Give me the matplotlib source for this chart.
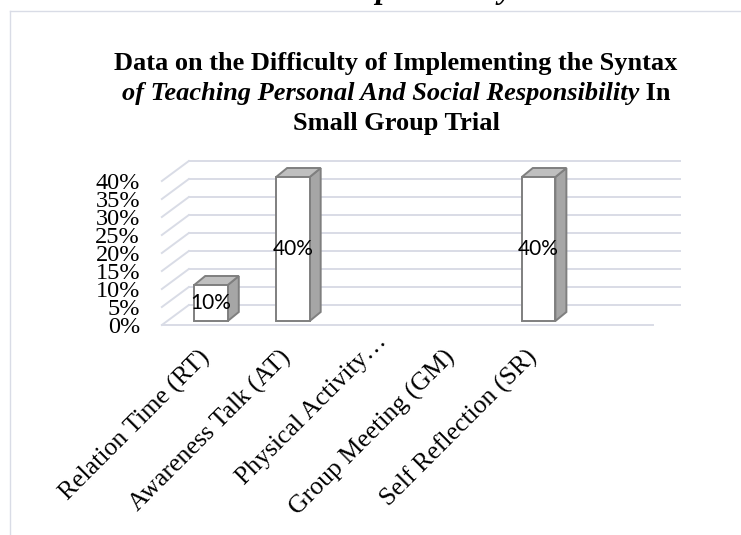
import numpy as np
import matplotlib
matplotlib.use("Agg")
import matplotlib.pyplot as plt
from matplotlib import transforms as mtransforms
from matplotlib.patches import Polygon
from matplotlib.lines import Line2D

# ---------------- data ----------------
categories = ["Relation Time (RT)", "Awareness Talk (AT)", "Physical Activity\u2026",
              "Group Meeting (GM)", "Self Reflection (SR)"]
values = [10, 40, 0, 0, 40]
yticks = [0, 5, 10, 15, 20, 25, 30, 35, 40]
ytick_labels = [f"{t}%" for t in yticks]
title_line1 = "Data on the Difficulty of Implementing the Syntax"
title_line2_italic = "of Teaching Personal And Social Responsibility"
title_line2_rest = " In"
title_line3 = "Small Group Trial"
cut_heading = "Responsibility"

# ---------------- figure ----------------
W, H, DPI = 741, 535, 100
fig = plt.figure(figsize=(W / DPI, H / DPI), dpi=DPI)
fig.patch.set_facecolor("white")

SERIF = "Liberation Serif"
GRID = "#d9dce6"
EDGE = "#7f7f7f"

# axes: category i -> px 211 + 81.9 i ; value v -> px 321 - 3.6 v (image px, top origin)
axL, axR, axT, axB = 150, 700, 140, 340
ax = fig.add_axes([axL / W, 1 - axB / H, (axR - axL) / W, (axB - axT) / H])
step, x0, y0, ys = 81.9, 211, 321, 3.6
ax.set_xlim((axL - x0) / step, (axR - x0) / step)
ax.set_ylim((y0 - axB) / ys, (y0 - axT) / ys)
ax.patch.set_visible(False)
for s in ax.spines.values():
    s.set_visible(False)

fig.canvas.draw()
disp = ax.transData.transform
ident = mtransforms.IdentityTransform()

# ---------------- walls / gridlines ----------------
wall_left, wall_right = -0.6, 5.4
front_dy = -4
back_dx, back_dy = 27, 16
for t in yticks:
    fx, fy = disp((wall_left, t))
    fy += front_dy
    bx, by = fx + back_dx, fy + back_dy + 4
    rx = disp((wall_right, t))[0] + back_dx
    ax.add_line(Line2D([fx, bx], [fy, by], transform=ident, color=GRID, lw=1.4, zorder=1))
    ax.add_line(Line2D([bx, rx], [by, by], transform=ident, color=GRID, lw=1.4, zorder=1))
# floor front edge
fx, fy = disp((wall_left, 0))
rx = disp((wall_right, 0))[0]
ax.add_line(Line2D([fx, rx], [fy + front_dy, fy + front_dy], transform=ident,
                   color=GRID, lw=1.4, zorder=1))

# ---------------- bars ----------------
bar_w = 0.41
ddx, ddy = 11, 9
for i, v in enumerate(values):
    if v <= 0:
        continue
    ax.bar(i, v, width=bar_w, color="white", edgecolor=EDGE, lw=1.4, zorder=3)
    lx, by_ = disp((i - bar_w / 2, 0))
    rx, ty = disp((i + bar_w / 2, v))
    side = Polygon([(rx, by_), (rx + ddx, by_ + ddy), (rx + ddx, ty + ddy), (rx, ty)],
                   closed=True, transform=ident, facecolor="#a6a6a6", edgecolor=EDGE,
                   lw=1.4, zorder=2.9)
    top = Polygon([(lx, ty), (lx + ddx, ty + ddy), (rx + ddx, ty + ddy), (rx, ty)],
                  closed=True, transform=ident, facecolor="#bfbfbf", edgecolor=EDGE,
                  lw=1.4, zorder=2.9)
    ax.add_patch(side)
    ax.add_patch(top)
    ax.text(i, v / 2, f"{v}%", ha="center", va="center", fontfamily="Lato",
            fontsize=15, color="black", zorder=5)

# ---------------- ticks ----------------
ax.set_yticks(yticks, ytick_labels, fontfamily=SERIF, fontsize=17.5)
ax.tick_params(axis="y", length=0, pad=7.2)
yoff = mtransforms.ScaledTranslation(0, -4 / DPI, fig.dpi_scale_trans)
for lbl in ax.get_yticklabels():
    lbl.set_transform(lbl.get_transform() + yoff)

ax.set_xticks(range(len(categories)), categories, rotation=45, ha="right", va="center",
              rotation_mode="anchor", fontfamily=SERIF, fontsize=18.5)
ax.tick_params(axis="x", length=0, pad=8)
xlbls = ax.get_xticklabels()
for k, lbl in enumerate(xlbls):
    dx, dy = (-5, -3) if k != 2 else (9, 13)
    off = mtransforms.ScaledTranslation(dx / DPI, dy / DPI, fig.dpi_scale_trans)
    lbl.set_transform(lbl.get_transform() + off)

# ---------------- titles ----------------
cx = 396
tkw = dict(fontfamily=SERIF, fontweight="bold", fontsize=19, va="baseline")
fig.text(cx / W, 1 - 70 / H, title_line1, ha="center", **tkw)
r = fig.canvas.get_renderer()
t_it = fig.text(0, 1 - 100 / H, title_line2_italic, ha="left", fontstyle="italic", **tkw)
t_re = fig.text(0, 1 - 100 / H, title_line2_rest, ha="left", **tkw)
w1 = t_it.get_window_extent(r).width
w2 = t_re.get_window_extent(r).width
start = cx - (w1 + w2) / 2
t_it.set_x(start / W)
t_re.set_x((start + w1) / W)
fig.text(cx / W, 1 - 130 / H, title_line3, ha="center", **tkw)

# cut-off heading from the page above the chart (only descenders visible)
fig.text(328 / W, 1 + 2 / H, cut_heading, ha="left", va="baseline", fontfamily=SERIF,
         fontweight="bold", fontstyle="italic", fontsize=23)

# ---------------- chart frame ----------------
fig.add_artist(Line2D([9.5 / W, 9.5 / W], [0, 1 - 10.5 / H], transform=fig.transFigure,
                      color=GRID, lw=1.0))
fig.add_artist(Line2D([9.5 / W, 1], [1 - 10.5 / H, 1 - 10.5 / H], transform=fig.transFigure,
                      color=GRID, lw=1.0))

fig.savefig("out.png", dpi=DPI, facecolor="white")
